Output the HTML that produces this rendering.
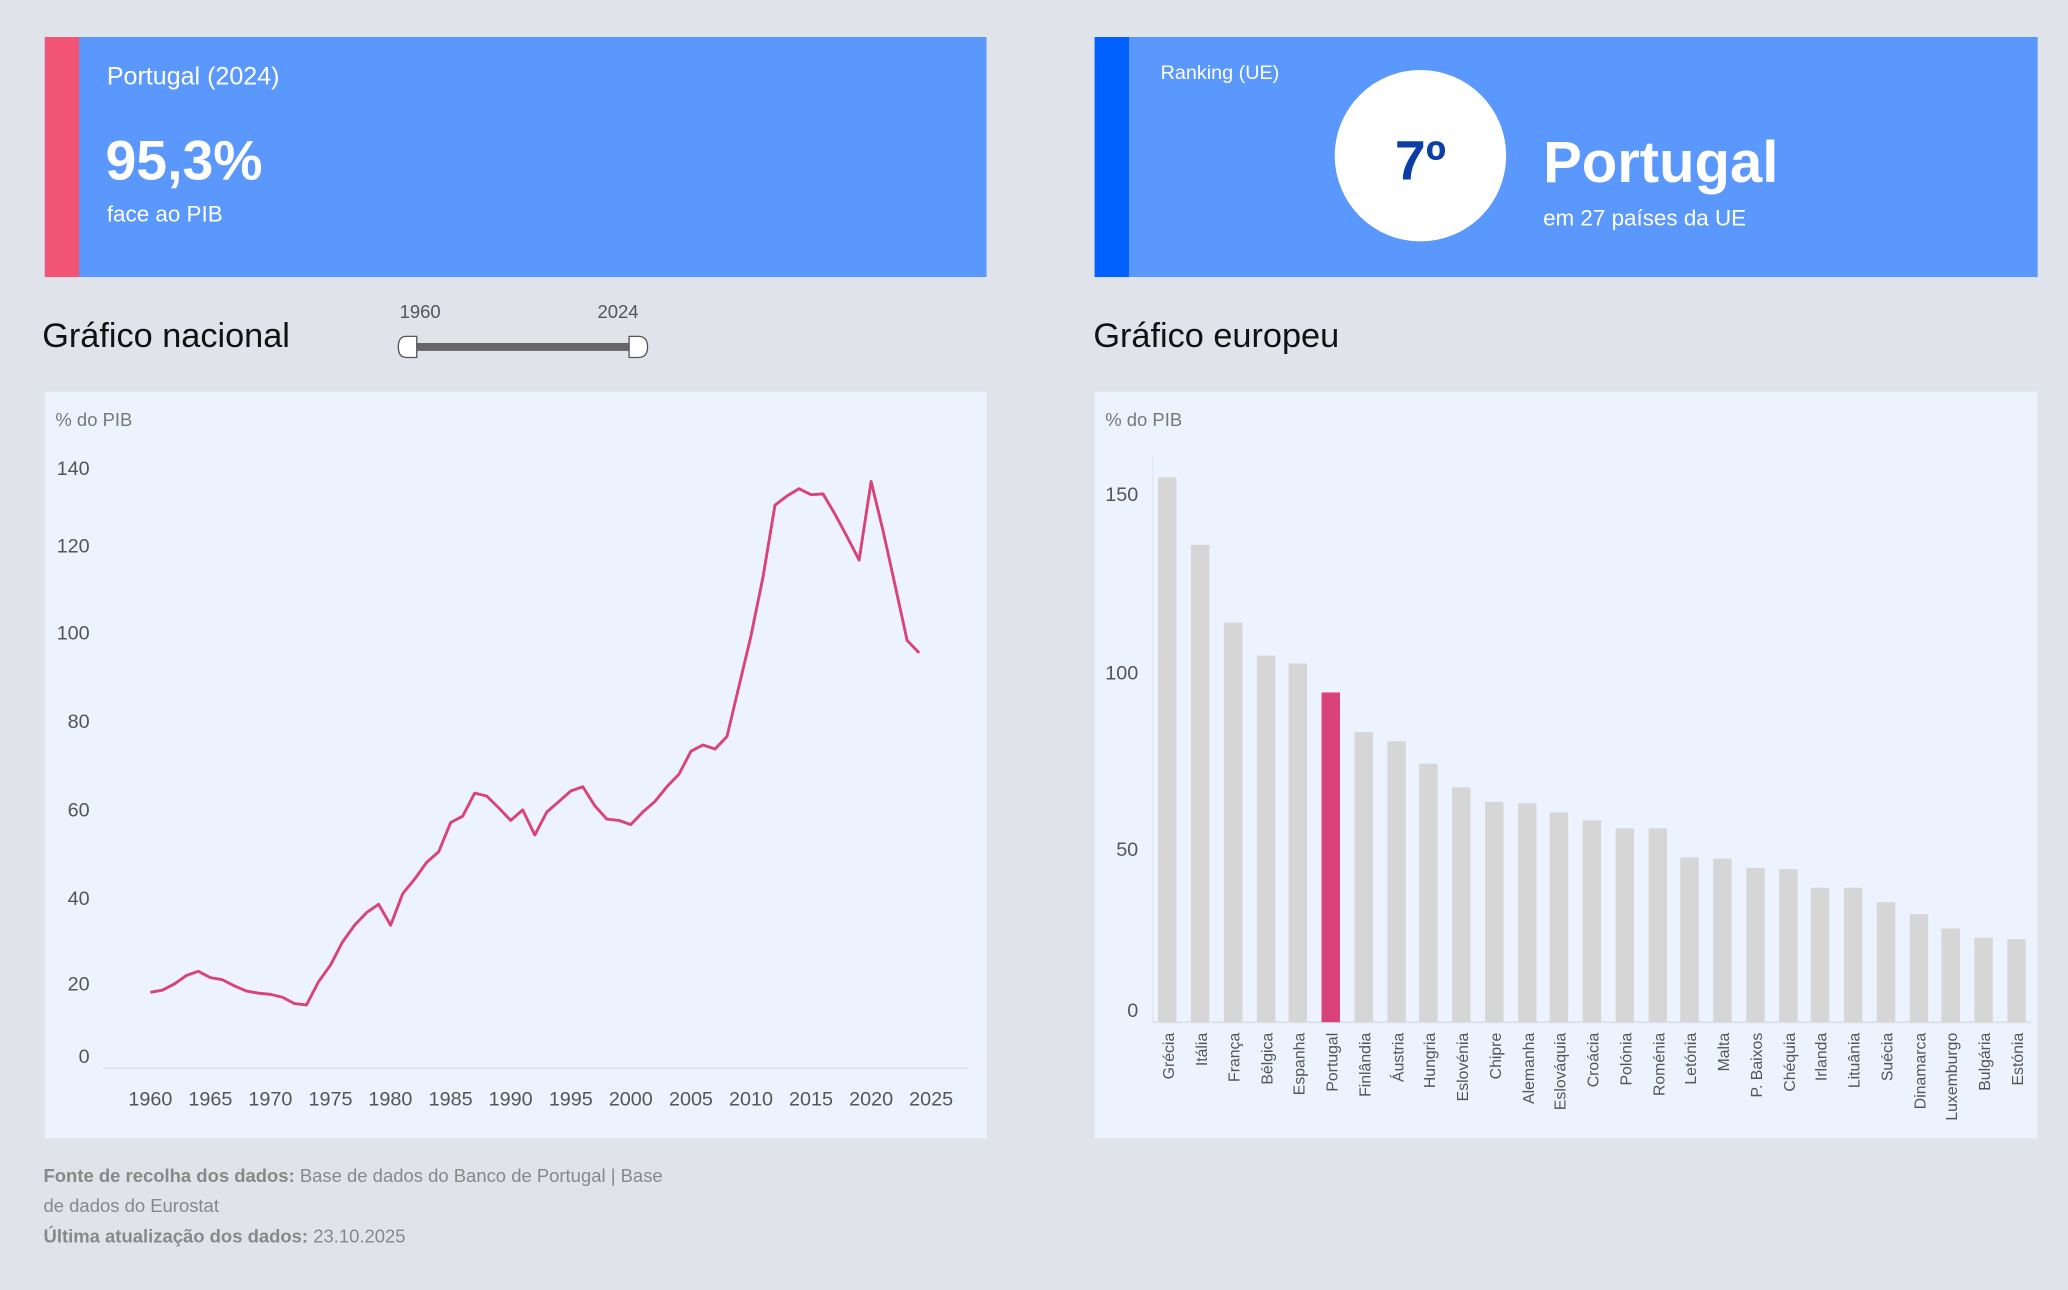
<!DOCTYPE html>
<html><head><meta charset="utf-8"><style>
html,body{margin:0;padding:0;background:#e0e3ea;}
svg{display:block;font-family:"Liberation Sans",sans-serif;}
</style></head><body>
<svg width="2068" height="1290" viewBox="0 0 1568 978" xmlns="http://www.w3.org/2000/svg">
<rect x="0" y="0" width="1568" height="978" fill="#e0e3ea"/>
<!-- KPI left -->
<rect x="34" y="28" width="714" height="182" fill="#5b98fd"/>
<rect x="34" y="28" width="26" height="182" fill="#f25473"/>
<text x="81" y="64" font-size="19" fill="#fff">Portugal (2024)</text>
<text x="80" y="136" font-size="42" font-weight="bold" fill="#fff">95,3%</text>
<text x="81" y="168" font-size="17" fill="#fff">face ao PIB</text>
<!-- KPI right -->
<rect x="830" y="28" width="715" height="182" fill="#5b98fd"/>
<rect x="830" y="28" width="26" height="182" fill="#0061fe"/>
<text x="880" y="60" font-size="15" fill="#fff">Ranking (UE)</text>
<circle cx="1077" cy="118" r="65" fill="#fff"/>
<text x="1077" y="136" font-size="42" font-weight="bold" fill="#0b3fa6" text-anchor="middle">7º</text>
<text x="1170" y="138" font-size="44" font-weight="bold" fill="#fff">Portugal</text>
<text x="1170" y="171" font-size="17" fill="#fff">em 27 países da UE</text>
<!-- Titles -->
<text x="32" y="263" font-size="26" fill="#111">Gráfico nacional</text>
<text x="829" y="263" font-size="26" fill="#111">Gráfico europeu</text>
<!-- slider -->
<text x="303" y="241" font-size="14" fill="#555">1960</text>
<text x="453" y="241" font-size="14" fill="#555">2024</text>
<rect x="310" y="260" width="172" height="6" fill="#666"/>
<path d="M316 255 L308 255 Q302 255 302 263 Q302 271 308 271 L316 271 Z" fill="#fff" stroke="#555" stroke-width="1"/>
<path d="M477 255 L484 255 Q491 255 491 263 Q491 271 484 271 L477 271 Z" fill="#fff" stroke="#555" stroke-width="1"/>
<!-- Line chart panel -->
<rect x="34" y="297" width="714" height="566" fill="#edf3fe"/>
<text x="42" y="323" font-size="14" fill="#777">% do PIB</text>
<line x1="78" y1="810" x2="734" y2="810" stroke="#dde2ea" stroke-width="1.5"/>
<g font-size="15" fill="#555" text-anchor="end">
<text x="68" y="360">140</text><text x="68" y="419">120</text><text x="68" y="485">100</text>
<text x="68" y="552">80</text><text x="68" y="619">60</text><text x="68" y="686">40</text>
<text x="68" y="751">20</text><text x="68" y="806">0</text>
</g>
<g font-size="15" fill="#555" text-anchor="middle">
<text x="114" y="838">1960</text><text x="159.5" y="838">1965</text><text x="205" y="838">1970</text>
<text x="250.6" y="838">1975</text><text x="296" y="838">1980</text><text x="341.7" y="838">1985</text>
<text x="387.2" y="838">1990</text><text x="432.8" y="838">1995</text><text x="478.3" y="838">2000</text>
<text x="523.9" y="838">2005</text><text x="569.4" y="838">2010</text><text x="614.9" y="838">2015</text>
<text x="660.5" y="838">2020</text><text x="706" y="838">2025</text>
</g>
<polyline fill="none" stroke="#d9437a" stroke-width="2.2" stroke-linejoin="round" points="114,752.3 123.1,750.7 132.2,746 141.3,739.6 150.4,736.4 159.5,741.2 168.6,742.8 177.8,747.5 186.9,751.4 196,753 205.1,753.9 214.2,756.1 223.3,760.9 232.4,761.9 241.5,744.4 250.6,731.7 259.7,714.2 268.8,701.5 277.9,691.9 287.1,685.6 296.2,701.5 305.3,677.6 314.4,666.5 323.5,653.8 332.6,645.8 341.7,623.6 350.8,618.8 359.9,601.3 369,603.5 378.1,612.4 387.2,622 396.3,614 405.5,633.1 414.6,615.6 423.7,607.7 432.8,599.7 441.9,596.5 451,610.9 460.1,621 469.2,622 478.3,625.2 487.4,615.6 496.5,607.7 505.6,596.5 514.8,587 523.9,569.5 533,564.8 542.1,567.9 551.2,558.4 560.3,520.2 569.4,482.1 578.5,437.6 587.6,383 596.7,376 605.8,370.5 614.9,375 624.1,374.5 633.2,390 642.3,407 651.4,424.6 660.5,365 669.6,402.6 678.7,443.9 687.8,485.5 696.9,495"/>
<!-- Bar chart panel -->
<rect x="830" y="297" width="715" height="566" fill="#edf3fe"/>
<text x="838" y="323" font-size="14" fill="#777">% do PIB</text>
<line x1="874" y1="345" x2="874" y2="775" stroke="#e4e8ee" stroke-width="1"/>
<line x1="874" y1="775" x2="1540" y2="775" stroke="#dde2ea" stroke-width="1.5"/>
<g font-size="15" fill="#555" text-anchor="end">
<text x="863" y="380">150</text><text x="863" y="515">100</text><text x="863" y="649">50</text><text x="863" y="771">0</text>
</g>
<g fill="#d6d6d6">
<rect x="878" y="362" width="14" height="413"/>
<rect x="903" y="413" width="14" height="362"/>
<rect x="928" y="472" width="14" height="303"/>
<rect x="953" y="497" width="14" height="278"/>
<rect x="977" y="503" width="14" height="272"/>
<rect x="1002" y="525" width="14" height="250" fill="#d9437a"/>
<rect x="1027" y="555" width="14" height="220"/>
<rect x="1052" y="562" width="14" height="213"/>
<rect x="1076" y="579" width="14" height="196"/>
<rect x="1101" y="597" width="14" height="178"/>
<rect x="1126" y="608" width="14" height="167"/>
<rect x="1151" y="609" width="14" height="166"/>
<rect x="1175" y="616" width="14" height="159"/>
<rect x="1200" y="622" width="14" height="153"/>
<rect x="1225" y="628" width="14" height="147"/>
<rect x="1250" y="628" width="14" height="147"/>
<rect x="1274" y="650" width="14" height="125"/>
<rect x="1299" y="651" width="14" height="124"/>
<rect x="1324" y="658" width="14" height="117"/>
<rect x="1349" y="659" width="14" height="116"/>
<rect x="1373" y="673" width="14" height="102"/>
<rect x="1398" y="673" width="14" height="102"/>
<rect x="1423" y="684" width="14" height="91"/>
<rect x="1448" y="693" width="14" height="82"/>
<rect x="1472" y="704" width="14" height="71"/>
<rect x="1497" y="711" width="14" height="64"/>
<rect x="1522" y="712" width="14" height="63"/>
</g>
<g font-size="12" fill="#555" text-anchor="end">
<text transform="translate(890,783) rotate(-90)">Grécia</text>
<text transform="translate(915,783) rotate(-90)">Itália</text>
<text transform="translate(940,783) rotate(-90)">França</text>
<text transform="translate(965,783) rotate(-90)">Bélgica</text>
<text transform="translate(989,783) rotate(-90)">Espanha</text>
<text transform="translate(1014,783) rotate(-90)">Portugal</text>
<text transform="translate(1039,783) rotate(-90)">Finlândia</text>
<text transform="translate(1064,783) rotate(-90)">Áustria</text>
<text transform="translate(1088,783) rotate(-90)">Hungria</text>
<text transform="translate(1113,783) rotate(-90)">Eslovénia</text>
<text transform="translate(1138,783) rotate(-90)">Chipre</text>
<text transform="translate(1163,783) rotate(-90)">Alemanha</text>
<text transform="translate(1187,783) rotate(-90)">Eslováquia</text>
<text transform="translate(1212,783) rotate(-90)">Croácia</text>
<text transform="translate(1237,783) rotate(-90)">Polónia</text>
<text transform="translate(1262,783) rotate(-90)">Roménia</text>
<text transform="translate(1286,783) rotate(-90)">Letónia</text>
<text transform="translate(1311,783) rotate(-90)">Malta</text>
<text transform="translate(1336,783) rotate(-90)">P. Baixos</text>
<text transform="translate(1361,783) rotate(-90)">Chéquia</text>
<text transform="translate(1385,783) rotate(-90)">Irlanda</text>
<text transform="translate(1410,783) rotate(-90)">Lituânia</text>
<text transform="translate(1435,783) rotate(-90)">Suécia</text>
<text transform="translate(1460,783) rotate(-90)">Dinamarca</text>
<text transform="translate(1484,783) rotate(-90)">Luxemburgo</text>
<text transform="translate(1509,783) rotate(-90)">Bulgária</text>
<text transform="translate(1534,783) rotate(-90)">Estónia</text>
</g>
<!-- Footer -->
<g font-size="14" fill="#888">
<text x="33" y="896"><tspan font-weight="bold">Fonte de recolha dos dados:</tspan> Base de dados do Banco de Portugal | Base</text>
<text x="33" y="919">de dados do Eurostat</text>
<text x="33" y="942"><tspan font-weight="bold">Última atualização dos dados:</tspan> 23.10.2025</text>
</g>
</svg>
</body></html>
